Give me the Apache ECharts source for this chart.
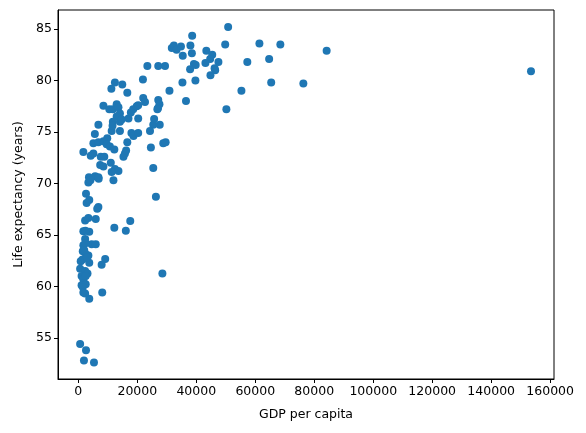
<!DOCTYPE html>
<html>
<head>
<meta charset="utf-8">
<script src="https://cdn.jsdelivr.net/npm/echarts@6/dist/echarts.min.js"></script>
<style>
html,body{margin:0;padding:0;background:#fff;}
#chart{width:586px;height:433px;}
</style>
</head>
<body>
<div id="chart"></div>
<script>
// GDP per capita (x) values
const gdp = [
  38600, 31700, 32400, 33300, 34800, 38000, 38500, 35400, 39200, 39800,
  37900, 23400, 27100, 29400, 39700, 35300, 21900, 30900, 36500, 12400,
  11200, 14900, 16600, 8500, 10500, 11700, 13000, 13600, 14100, 13000,
  18600, 19800, 20300, 22000, 22600, 27100, 27500, 27000, 26800, 11700,
  14100, 14700, 17000, 20300, 25400, 27600, 6800, 24300, 14100, 5600,
  9800, 11300, 11600, 17800, 25700,
  18000, 18700, 20300, 5100, 6800, 8500, 9600, 10700, 12200, 16600,
  24600, 28800, 29600, 1700, 4200, 5100, 7600, 8800, 15300, 15800,
  16200, 7400, 8500, 11000, 25400, 12400, 13600, 11300, 11900, 3600,
  3400, 5700, 6800, 6900, 4100, 26300, 2600, 2800, 3700, 6800,
  6400, 2300, 3400, 5900, 17600, 12200, 16100, 1700, 3700, 2400,
  2300, 1700, 4500, 5900, 2400, 1500, 2600, 3400, 9100, 2000,
  7900, 800, 3700, 600, 2300, 3100, 28500, 1100, 1700, 1900,
  1100, 2500, 1500, 1700, 8100, 3700, 600, 2600, 1900, 5300,
  1400, 2900, 2500, 2300,
  50800, 49800, 61400, 68500, 84200, 43400, 45400, 44700, 47500, 43100,
  46200, 46400, 57300, 64700, 44800, 55300, 65400, 76300, 50200, 153500
];
// Life expectancy (y) values, same order
const lifeExp = [
  84.35, 83.15, 83.4, 83.0, 83.3, 83.4, 82.65, 82.4, 81.6, 81.5,
  81.1, 81.4, 81.4, 81.4, 80.0, 79.8, 80.1, 79.0, 78.0, 79.8,
  79.2, 79.6, 78.8, 77.55, 77.2, 77.2, 77.7, 77.4, 76.8, 76.5,
  77.2, 77.5, 77.6, 78.3, 77.9, 78.1, 77.7, 77.3, 77.2, 76.0,
  76.0, 76.2, 76.3, 76.3, 75.7, 75.7, 75.7, 75.1, 75.1, 74.8,
  74.4, 75.1, 75.6, 76.9, 76.25,
  74.9, 74.6, 74.9, 73.9, 74.0, 74.1, 73.8, 73.6, 73.3, 74.0,
  73.5, 73.9, 74.0, 73.05, 72.7, 72.9, 72.6, 72.6, 72.6, 72.9,
  73.2, 71.8, 71.65, 72.0, 71.5, 71.4, 71.2, 71.1, 70.3, 70.6,
  70.1, 70.7, 70.6, 70.45, 70.3, 68.7, 69.0, 68.1, 68.4, 67.7,
  67.55, 66.4, 66.65, 66.55, 66.35, 65.7, 65.4, 65.35, 65.3, 65.4,
  64.6, 64.0, 64.1, 64.1, 64.2, 63.4, 63.1, 63.0, 62.65, 63.5,
  62.1, 62.45, 62.3, 61.7, 61.5, 61.25, 61.25, 61.0, 60.7, 60.3,
  60.1, 60.2, 59.95, 59.4, 59.4, 58.8, 54.4, 53.8, 52.8, 52.6,
  62.6, 62.8, 61.0, 59.3,
  85.2, 83.5, 83.6, 83.5, 82.9, 82.9, 82.5, 82.1, 81.8, 81.7,
  81.2, 81.0, 81.8, 82.1, 80.5, 79.0, 79.8, 79.7, 77.2, 80.9
];
// Tick labels
const xTicks = [0, 20000, 40000, 60000, 80000, 100000, 120000, 140000, 160000];
const yTicks = [55, 60, 65, 70, 75, 80, 85];
const xLabel = 'GDP per capita';
const yLabel = 'Life expectancy (years)';

const points = gdp.map((g, i) => [g, lifeExp[i]]);

const chart = echarts.init(document.getElementById('chart'), null, {renderer: 'canvas'});
const font = 'DejaVu Sans';
chart.setOption({
  animation: false,
  backgroundColor: '#ffffff',
  grid: {left: 58, right: 32, top: 10, bottom: 54, show: true, borderColor: '#000', borderWidth: 1, backgroundColor: 'transparent'},
  xAxis: {
    type: 'value',
    min: -6900, max: 161300,
    name: xLabel, nameLocation: 'middle', nameGap: 29,
    nameTextStyle: {fontFamily: font, fontSize: 12.5, color: '#000'},
    axisLine: {show: true, onZero: false, lineStyle: {color: '#000', width: 1}},
    axisTick: {show: true, inside: false, length: 4, lineStyle: {color: '#000'}, customValues: xTicks},
    axisLabel: {fontFamily: font, fontSize: 12.5, color: '#000', margin: 6, customValues: xTicks, formatter: v => String(v)},
    splitLine: {show: false}
  },
  yAxis: {
    type: 'value',
    min: 51.0, max: 86.85,
    name: yLabel, nameLocation: 'middle', nameGap: 33,
    nameTextStyle: {fontFamily: font, fontSize: 12.5, color: '#000'},
    axisLine: {show: true, onZero: false, lineStyle: {color: '#000', width: 1}},
    axisTick: {show: true, inside: false, length: 4, lineStyle: {color: '#000'}, customValues: yTicks},
    axisLabel: {fontFamily: font, fontSize: 12.5, color: '#000', margin: 6, customValues: yTicks, formatter: v => String(v)},
    splitLine: {show: false}
  },
  series: [{
    type: 'scatter',
    data: points,
    symbol: 'circle',
    symbolSize: 8,
    itemStyle: {color: '#1f77b4', opacity: 1}
  }]
});
</script>
</body>
</html>
